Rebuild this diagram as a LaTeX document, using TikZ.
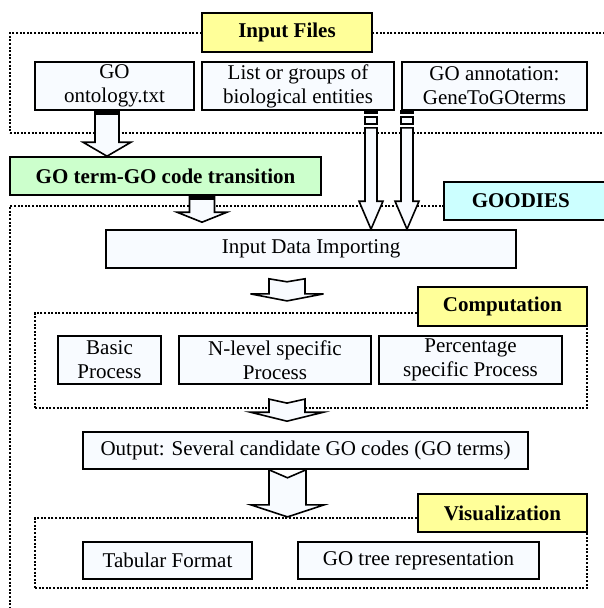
\documentclass[tikz,border=0pt]{standalone}
\usepackage{fontspec}
\setmainfont{Liberation Serif}
\newfontfamily\figfont{Liberation Serif}
\usetikzlibrary{calc}

\definecolor{paleblue}{HTML}{F8FBFF}
\definecolor{tagyellow}{HTML}{FFFF99}
\definecolor{taggreen}{HTML}{CCFFCC}
\definecolor{tagcyan}{HTML}{CCFFFF}

% [notch] centre x, tail, tip, half shaft, half head, head length
\newcommand\fatarrow[7][0]{%
  \draw[fatline] let \p1=#3, \p2=#4 in
    (#2-#5,\y1) -- (#2,\y1-#1pt) -- (#2+#5,\y1) -- (#2+#5,\y2+#7pt) -- (#2+#6,\y2+#7pt)
    -- (#2,\y2) -- (#2-#6,\y2+#7pt) -- (#2-#5,\y2+#7pt) -- cycle;}

\begin{document}
\begin{tikzpicture}[x=1pt,y=-1pt,font=\figfont\fontsize{21}{24}\selectfont,
  box/.style={draw,line width=1.6pt,fill=paleblue,align=center,inner sep=0pt},
  tagbox/.style={box,font=\figfont\fontsize{21}{24}\selectfont\bfseries},
  region/.style={draw,line width=2.2pt,dash pattern=on 2pt off 1.6pt,inner sep=0pt},
  fatline/.style={draw,line width=1.6pt,fill=paleblue,line join=miter}]
  \useasboundingbox (0,0) rectangle (604,608);
  \clip (0,0) rectangle (604,608);

  \node[region,minimum width=620pt,minimum height=100pt] (inregion) at (320,83) {};
  \node[region,minimum width=620pt,minimum height=440pt] (goodregion) at (320,426) {};
  \node[region,minimum width=552pt,minimum height=95pt] (compregion) at (311,360.5) {};
  \node[region,minimum width=552pt,minimum height=70pt] (visregion) at (311,553) {};

  \node[tagbox,fill=tagyellow,minimum width=170pt,minimum height=39pt] (infiles) at (287,32.5) {Input Files};
  \node[tagbox,fill=taggreen,minimum width=311pt,minimum height=38pt] (transition) at (165.5,176) {GO term-GO code transition};
  \node[tagbox,fill=tagcyan,anchor=west,align=left,text width=130pt,inner xsep=28pt,minimum height=38pt] (goodies) at (443,201) {GOODIES};
  \node[tagbox,fill=tagyellow,minimum width=169pt,minimum height=39pt] (comptag) at (502.5,306.5) {Computation};
  \node[tagbox,fill=tagyellow,minimum width=169pt,minimum height=38pt] (vistag) at (502.5,513) {Visualization};

  \node[box,minimum width=159pt,minimum height=48pt] (ontology) at (114.5,86) {GO\\ontology.txt};
  \node[box,minimum width=192pt,minimum height=48pt] (entities) at (298,86) {List or groups of\\biological entities};
  \node[box,minimum width=185pt,minimum height=48pt] (annotation) at (494.5,86) {GO annotation:\\GeneToGOterms};
  \node[box,minimum width=410pt,minimum height=38pt] (import) at (311,249) {Input Data Importing};
  \node[box,minimum width=103pt,minimum height=48pt] (basic) at (109.5,360) {Basic\\Process};
  \node[box,minimum width=192pt,minimum height=48pt] (nlevel) at (275,360) {N-level specific\\Process};
  \node[box,minimum width=183pt,minimum height=48pt] (percent) at (470.5,360) {Percentage\\specific Process};
  \node[box,minimum width=445pt,minimum height=37pt] (output) at (305.5,450.5) {Output: Several candidate GO codes (GO terms)};
  \node[box,minimum width=169pt,minimum height=37pt] (tabular) at (167.5,560.5) {Tabular Format};
  \node[box,minimum width=241pt,minimum height=37pt] (gotree) at (418.5,560.5) {GO tree representation};

  \fatarrow{107}{(ontology.south)}{(transition.north)}{12}{24}{14}
  \fill (95,110) rectangle (119,115);
  \fatarrow{202}{(transition.south)}{([yshift=7pt]import.north)}{12.5}{25}{10}
  \fill (189.5,195) rectangle (214.5,200);
  \foreach \ax/\src in {371/entities,407/annotation} {
    \draw[fatline] (\ax-6,111) rectangle (\ax+6,113);
    \draw[fatline] (\ax-6,117) rectangle (\ax+6,124);
    \fatarrow{\ax}{([yshift=-17pt]\src.south)}{(import.north)}{6}{12}{28}
  }
  \fatarrow[3]{287}{([yshift=-10pt]import.south)}{([yshift=11pt]compregion.north)}{18}{36.5}{7}
  \fatarrow[4]{287}{([yshift=10pt]compregion.south)}{([yshift=10pt]output.north)}{18}{36.5}{9}
  \fatarrow[8]{287.5}{(output.south)}{(visregion.north)}{18.5}{36.5}{12}
\end{tikzpicture}
\end{document}
